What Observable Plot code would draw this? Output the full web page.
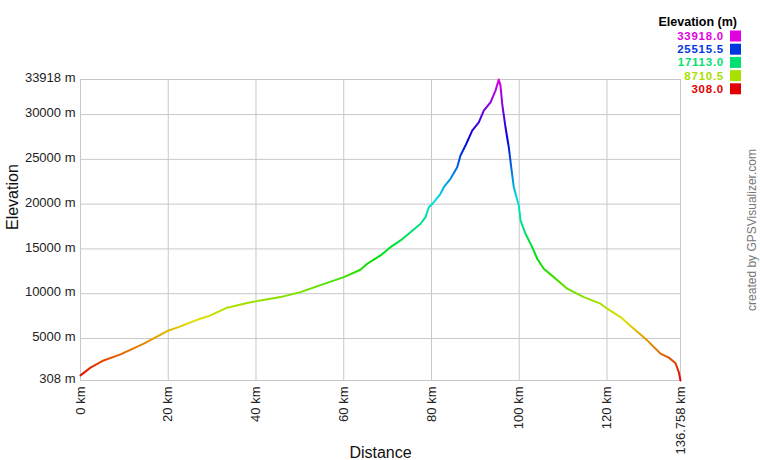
<!DOCTYPE html>
<html><head><meta charset="utf-8">
<script src="https://cdn.jsdelivr.net/npm/d3@7"></script>
<script src="https://cdn.jsdelivr.net/npm/@observablehq/plot@0.6"></script>
<style>body{margin:0;background:#fff;} #chart{width:760px;height:460px;}</style>
</head><body><div id="chart"></div>
<script>
const distanceKm = [0, 2.28, 4.95, 9.12, 14.43, 19.76, 22.79, 24.32, 27.35, 29.63, 33.44, 38.0, 41.03, 45.59, 50.15, 54.70, 60.02, 63.82, 65.35, 68.38, 70.66, 72.94, 75.22, 77.50, 78.64, 79.39, 80.53, 82.05, 82.81, 84.33, 85.86, 86.61, 87.75, 89.28, 90.78, 91.92, 93.45, 94.59, 95.34, 95.73, 96.12, 96.87, 97.62, 98.17, 98.76, 99.90, 100.29, 101.43, 102.96, 104.10, 105.60, 107.88, 110.93, 114.72, 118.52, 120.05, 123.08, 126.11, 129.17, 132.20, 134.09, 135.61, 136.37, 136.758];
const elevationM = [880, 1745, 2481, 3229, 4422, 5828, 6352, 6653, 7211, 7579, 8438, 8951, 9253, 9621, 10178, 10959, 11852, 12677, 13347, 14272, 15198, 15946, 16872, 17809, 18545, 19660, 20218, 21155, 21891, 22828, 24122, 25427, 26543, 28216, 29142, 30447, 31373, 32678, 33918, 33236, 31195, 28584, 26353, 24122, 21891, 19850, 18177, 16693, 15198, 13904, 12789, 11852, 10558, 9621, 8885, 8327, 7390, 6096, 4791, 3307, 2861, 2258, 1254, 308];
const xTicks = [0, 20, 40, 60, 80, 100, 120, 136.758];
const yTicks = [308, 5000, 10000, 15000, 20000, 25000, 30000, 33918];
const legendValues = [33918.0, 25515.5, 17113.0, 8710.5, 308.0];
const legendTitle = "Elevation (m)";
const xLabel = "Distance";
const yLabel = "Elevation";
const credit = "created by GPSVisualizer.com";

const elevMin = 308, elevMax = 33918, distMax = 136.758;
const colorFor = e => d3.hsl(300 * (e - elevMin) / (elevMax - elevMin), 1, 0.44).formatHex();
const data = distanceKm.map((d, i) => ({d, e: elevationM[i]}));
const font = "Liberation Sans, Arial, sans-serif";

const plot = Plot.plot({
  width: 760, height: 460,
  marginLeft: 80, marginRight: 80, marginTop: 79, marginBottom: 80,
  style: {fontFamily: font, fontSize: "13px", color: "#222", background: "#fff"},
  x: {domain: [0, distMax]},
  y: {domain: [elevMin, elevMax]},
  marks: [
    Plot.gridX(xTicks, {stroke: "#c8c8c8", strokeOpacity: 1}),
    Plot.gridY(yTicks, {stroke: "#c8c8c8", strokeOpacity: 1}),
    Plot.axisY(yTicks, {tickFormat: d => `${d} m`, tickSize: 0, tickPadding: 5, label: null, dy: -1.5, fontSize: 13}),
    Plot.axisX(xTicks, {tickFormat: d => `${d} km`, tickSize: 0, tickPadding: 6, tickRotate: -90, label: null, fontSize: 13}),
    Plot.line(data, {x: "d", y: "e", stroke: "url(#elevGrad)", strokeWidth: 2}),
    Plot.text([xLabel], {frameAnchor: "bottom", dy: 77, fontSize: 16, fill: "#111"}),
    Plot.text([yLabel], {frameAnchor: "left", dx: -67.5, rotate: -90, fontSize: 16, fill: "#111"})
  ]
});

const yScale = plot.scale("y");
const svg = d3.select(plot);
const grad = svg.insert("defs", ":first-child").append("linearGradient")
  .attr("id", "elevGrad").attr("gradientUnits", "userSpaceOnUse")
  .attr("x1", 0).attr("x2", 0)
  .attr("y1", yScale.apply(elevMin)).attr("y2", yScale.apply(elevMax));
for (let i = 0; i <= 30; i++) {
  const t = i / 30;
  grad.append("stop").attr("offset", t).attr("stop-color", colorFor(elevMin + t * (elevMax - elevMin)));
}

// Legend
const leg = svg.append("g").attr("font-family", font).attr("font-weight", "bold");
leg.append("text").attr("x", 737).attr("y", 26).attr("text-anchor", "end")
  .attr("font-size", 12.5).attr("fill", "#000").text(legendTitle);
legendValues.forEach((v, i) => {
  const base = 40 + i * 13.2;
  const c = colorFor(v);
  leg.append("text").attr("x", 724).attr("y", base).attr("text-anchor", "end")
    .attr("font-size", 11.4).attr("letter-spacing", 0.8).attr("fill", c).text(d3.format(".1f")(v));
  leg.append("rect").attr("x", 730).attr("y", base - 9.5).attr("width", 11).attr("height", 11).attr("fill", c);
});

svg.append("text").attr("transform", "translate(756,230) rotate(-90)")
  .attr("text-anchor", "middle").attr("font-family", font).attr("font-size", 12)
  .attr("fill", "#777").text(credit);

document.getElementById("chart").appendChild(plot);
</script>
</body></html>
